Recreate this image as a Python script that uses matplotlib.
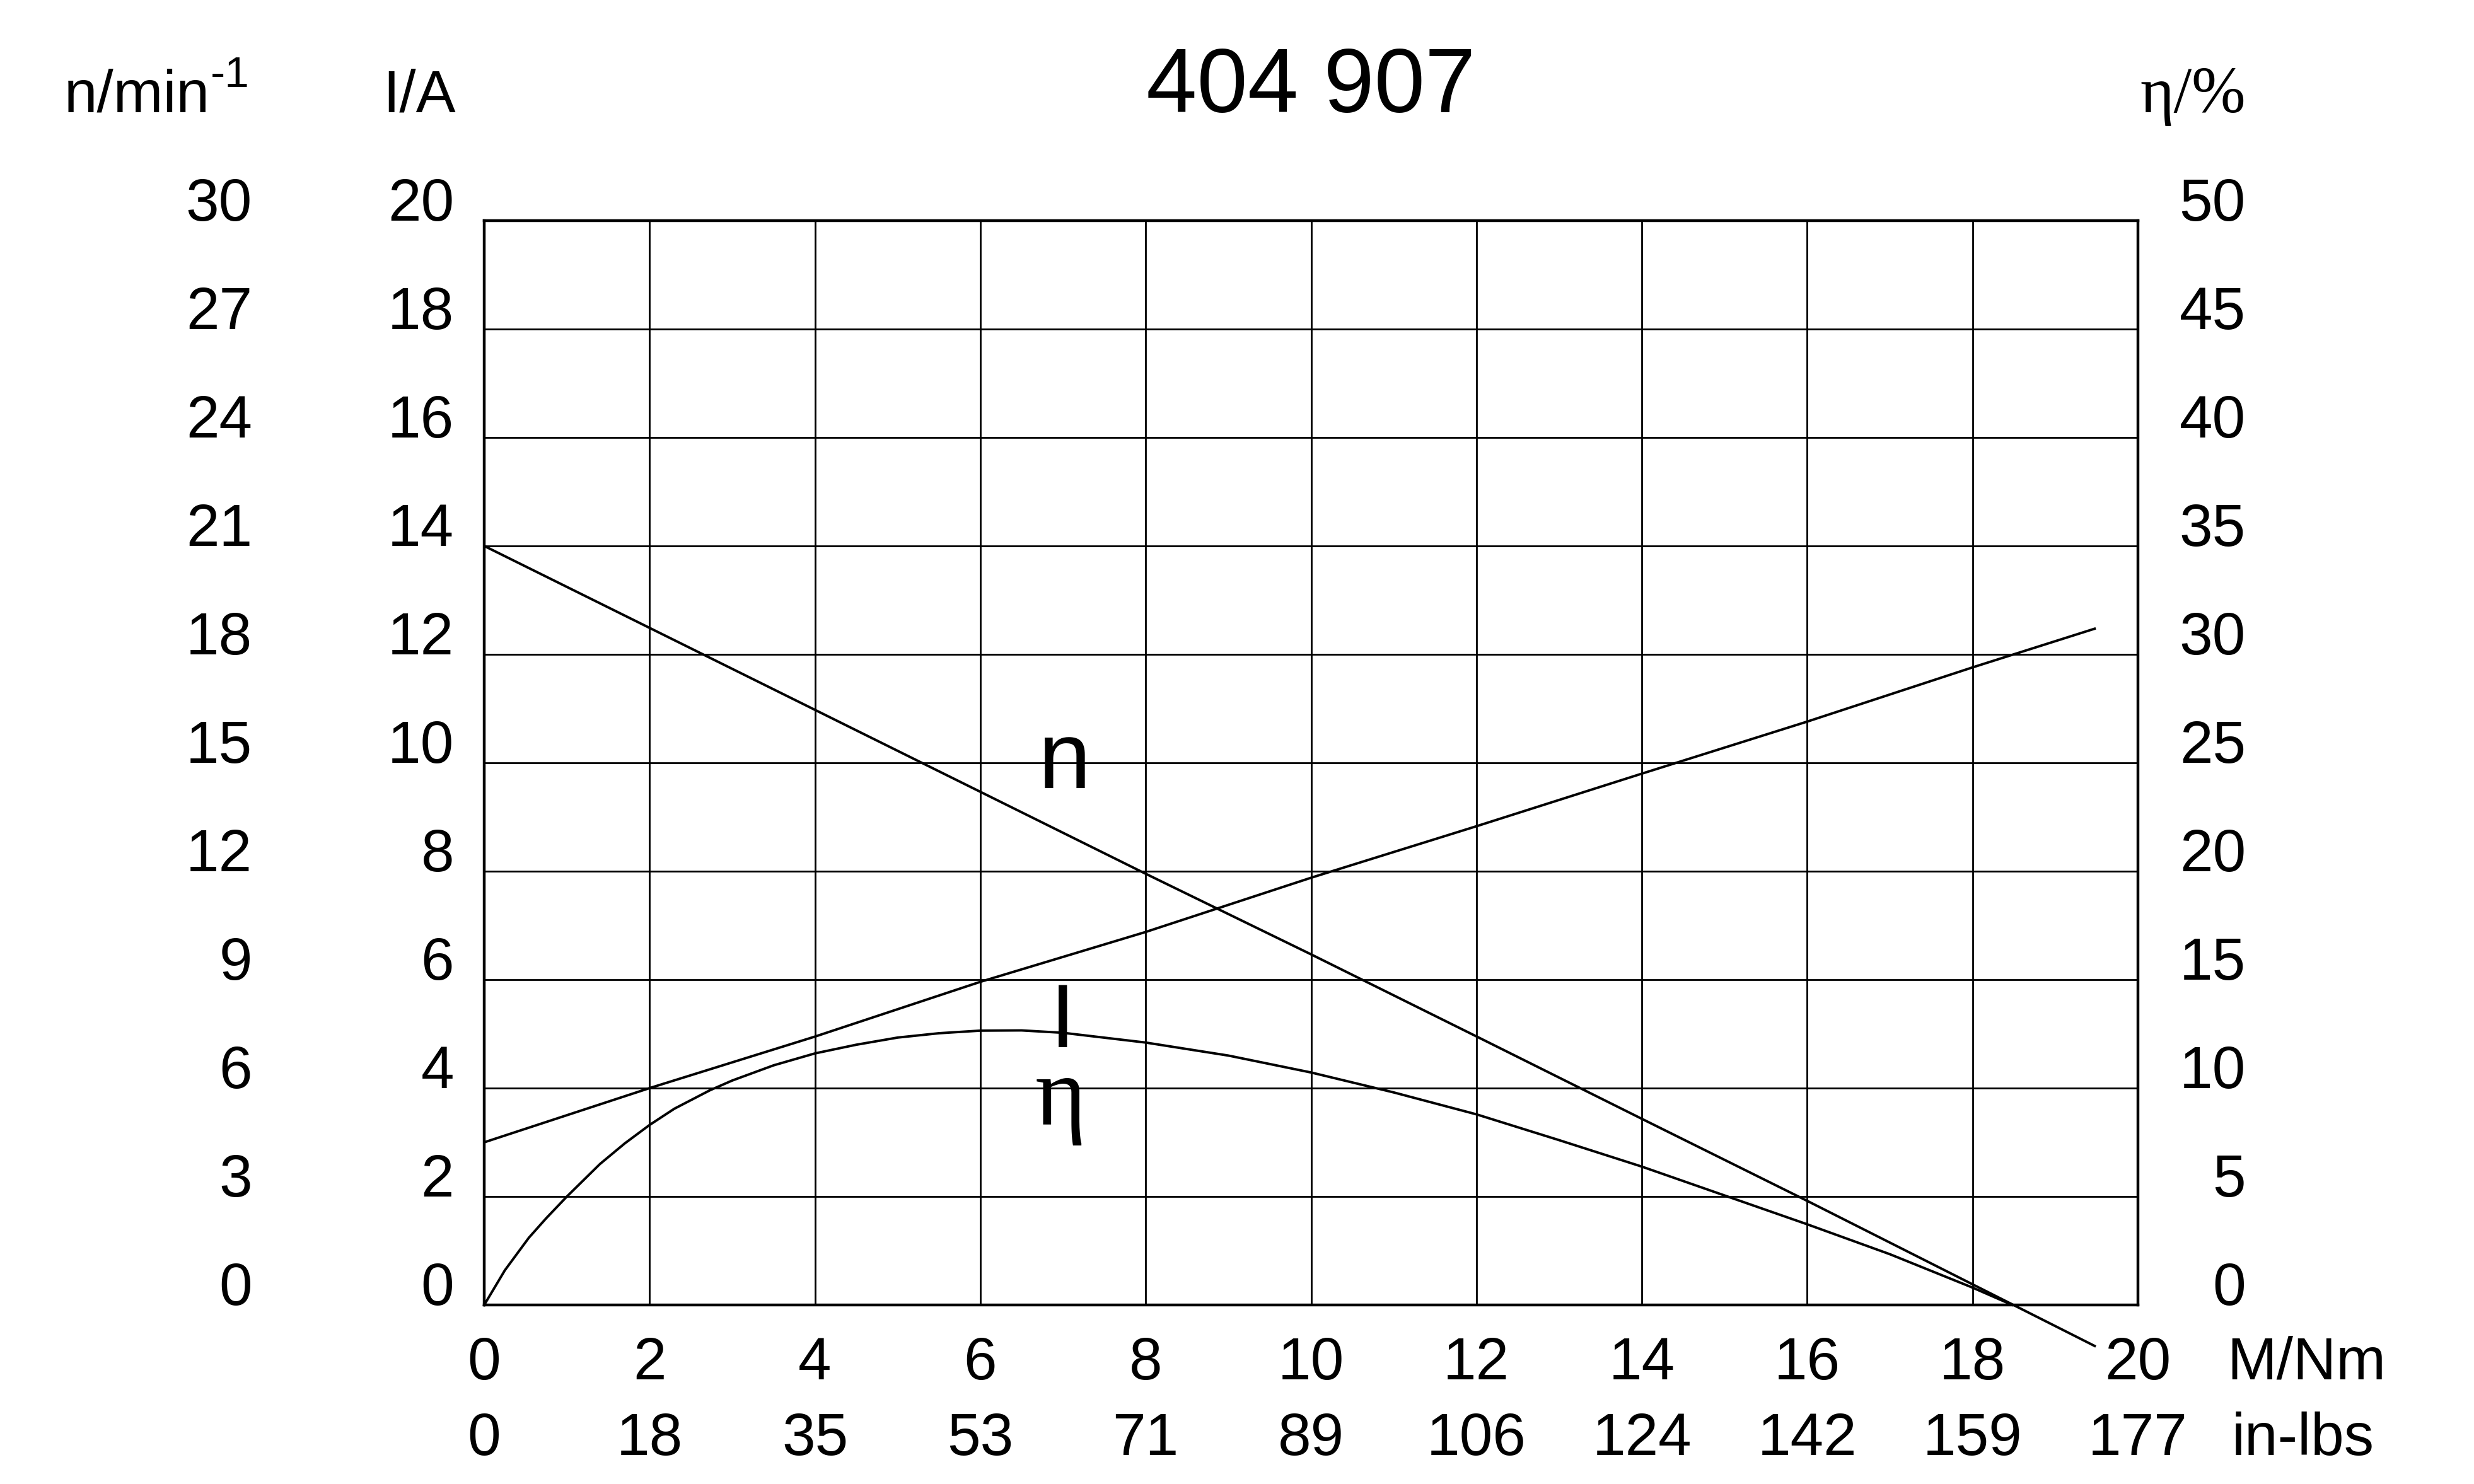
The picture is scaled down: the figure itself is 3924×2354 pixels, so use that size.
import matplotlib
matplotlib.use("Agg")
import matplotlib.pyplot as plt

plt.rcParams['font.family'] = ['Liberation Sans', 'DejaVu Sans']

# ---- data ----
title = "404 907"
torque_ticks = [0, 2, 4, 6, 8, 10, 12, 14, 16, 18, 20]
inlbs_labels = ["0", "18", "35", "53", "71", "89", "106", "124", "142", "159", "177"]
current_ticks = [0, 2, 4, 6, 8, 10, 12, 14, 16, 18, 20]
speed_ticks = [0, 3, 6, 9, 12, 15, 18, 21, 24, 27, 30]
eta_ticks = [0, 5, 10, 15, 20, 25, 30, 35, 40, 45, 50]

torque_n = [0, 8, 10, 12, 14, 16, 19.49]
speed_n = [21.0, 11.93, 9.7, 7.43, 5.15, 2.88, -1.15]

torque_I = [0, 2, 4, 6, 8, 10, 12, 14, 16, 18, 19.49]
current_I = [3.0, 4.0, 4.95, 5.96, 6.88, 7.88, 8.83, 9.80, 10.76, 11.76, 12.48]

torque_eta = [0, 0.25, 0.54, 0.75, 1.0, 1.4, 1.7, 2.0, 2.3, 2.73, 3.0, 3.5, 4.0,
              4.5, 5.0, 5.5, 6.0, 6.5, 7.0, 8.0, 9.0, 10.0, 11.0, 12.0, 13.0,
              14.0, 15.0, 16.0, 17.0, 18.0, 18.48]
eta = [0, 1.6, 3.1, 4.0, 5.0, 6.5, 7.45, 8.3, 9.05, 9.9, 10.35, 11.05, 11.6,
       12.0, 12.33, 12.53, 12.65, 12.66, 12.55, 12.1, 11.5, 10.72, 9.8, 8.79, 7.6,
       6.38, 5.05, 3.72, 2.34, 0.8, 0]

# ---- figure ----
W, H = 3924, 2354
DPI = 100
fig = plt.figure(figsize=(W / DPI, H / DPI), dpi=DPI)
L, R, B, T = 768 / W, 3391 / W, 1 - 2070 / H, 1 - 350 / H
ax = fig.add_axes([L, B, R - L, T - B])

px = 72.0 / DPI  # points per pixel
FS = 68
LW_CURVE = 2.8
LW_GRID = 2.0
SERIF = ['Liberation Serif', 'DejaVu Serif']

ax_t = ax.twiny()   # in-lbs row
ax_n = ax.twinx()   # speed axis (left, far)
ax_e = ax.twinx()   # efficiency axis (right)

ax.set_xlim(0, 20)
ax.set_ylim(0, 20)
ax.set_xticks(torque_ticks)
ax.set_xticklabels([str(t) for t in torque_ticks])
ax.set_yticks(current_ticks)
ax.set_yticklabels([str(t) for t in current_ticks])
ax.yaxis.tick_left()
ax.xaxis.tick_bottom()
ax.grid(True, color='black', lw=LW_GRID)
ax.set_axisbelow(True)
for s in ax.spines.values():
    s.set_linewidth(3.2)
ax.tick_params(axis='y', length=0, pad=48 * px, labelsize=FS)
ax.tick_params(axis='x', length=0, pad=118 * px, labelsize=FS)
for lbl in ax.get_yticklabels():
    lbl.set_va('baseline')
for lbl in ax.get_xticklabels():
    lbl.set_va('baseline')

ax_t.set_xlim(0, 20)
ax_t.xaxis.set_ticks_position('bottom')
ax_t.xaxis.set_label_position('bottom')
ax_t.set_xticks(torque_ticks)
ax_t.set_xticklabels(inlbs_labels)
ax_t.tick_params(axis='x', length=0, pad=238 * px, labelsize=FS)
for lbl in ax_t.get_xticklabels():
    lbl.set_va('baseline')
for s in ax_t.spines.values():
    s.set_visible(False)

ax_n.set_ylim(0, 30)
ax_n.yaxis.tick_left()
ax_n.set_yticks(speed_ticks)
ax_n.set_yticklabels([str(t) for t in speed_ticks])
ax_n.tick_params(axis='y', length=0, pad=368 * px, labelsize=FS)
for lbl in ax_n.get_yticklabels():
    lbl.set_va('baseline')
for s in ax_n.spines.values():
    s.set_visible(False)

ax_e.set_ylim(0, 50)
ax_e.set_yticks(eta_ticks)
ax_e.set_yticklabels([str(t) for t in eta_ticks])
ax_e.tick_params(axis='y', length=0, pad=171 * px, labelsize=FS)
for lbl in ax_e.get_yticklabels():
    lbl.set_va('baseline')
    lbl.set_ha('right')
for s in ax_e.spines.values():
    s.set_visible(False)

# curves
ax_n.plot(torque_n, speed_n, color='black', lw=LW_CURVE, clip_on=False,
          solid_capstyle='butt')
ax.plot(torque_I, current_I, color='black', lw=LW_CURVE, clip_on=False,
        solid_capstyle='butt')
ax_e.plot(torque_eta, eta, color='black', lw=LW_CURVE, clip_on=False,
          solid_joinstyle='round')

# curve labels
ax.text(7.01, 9.53, "n", fontsize=108, ha='center', va='baseline')
ax.text(7.0, 4.76, "I", fontsize=102, ha='center', va='baseline')
ax.text(6.97, 3.33, "η", fontsize=112, ha='center', va='baseline',
        family=SERIF)

# titles / axis names
ytop = 1 - 178 / H
fig.text((L + R) / 2, ytop, title, fontsize=104, ha='center', va='baseline')
fig.text(333 / W, ytop, "n/min", fontsize=FS, ha='right', va='baseline')
fig.text(334 / W, 1 - 138 / H, "-1", fontsize=50, ha='left', va='baseline')
fig.text(723 / W, ytop, "I/A", fontsize=FS, ha='right', va='baseline')
fig.text(3562 / W, ytop, "η/%", fontsize=74, ha='right', va='baseline',
         family=SERIF)
fig.text(3532 / W, 1 - 2188 / H, "M/Nm", fontsize=FS, ha='left', va='baseline')
fig.text(3540 / W, 1 - 2308 / H, "in-lbs", fontsize=FS, ha='left', va='baseline')

fig.savefig("out.png", dpi=DPI, facecolor='white')
